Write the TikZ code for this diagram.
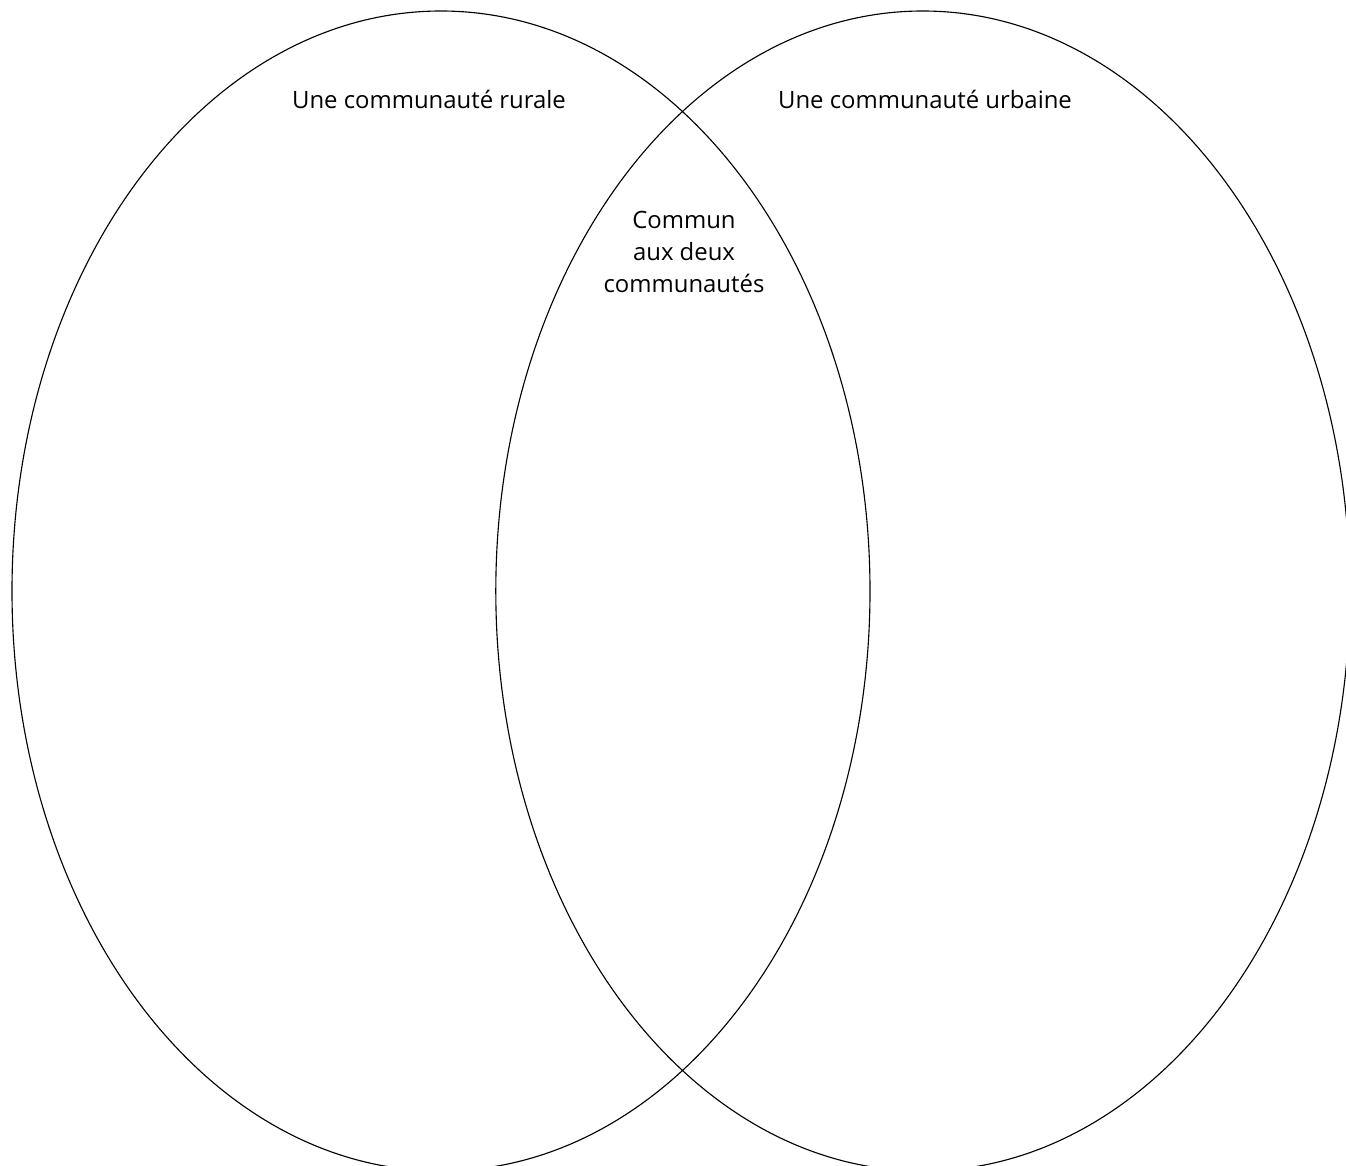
\documentclass[tikz,border=0pt]{standalone}
\usepackage{fontspec}
\setmainfont{Open Sans}
\usetikzlibrary{positioning, shapes.geometric}
\definecolor{venn-border}{HTML}{000000}
\definecolor{label-color}{HTML}{000000}
\tikzset{
  venn-set/.style={
    ellipse, draw=venn-border, line width=0.8pt, inner sep=0pt,
    minimum height=29.0cm
  },
  venn-label/.style={
    text=label-color, align=center, inner sep=0pt,
    font=\fontsize{17}{22.8}\selectfont
  }
}

\begin{document}
\begin{tikzpicture}
  \useasboundingbox (0, 0) rectangle (33.65, -29.15);
  \node[venn-set, minimum width=21.45cm] (rural) at (11.025, -14.775) {};
  \node[venn-set, minimum width=21.35cm] (urban) at (23.07, -14.775)  {};

  \node[venn-label] (rural-title)  at (10.725, -2.475) {Une communauté rurale};
  \node[venn-label] (urban-title)  at (23.125, -2.475) {Une communauté urbaine};
  \node[venn-label] (common-title) at (17.1, -6.3)     {Commun\\aux deux\\communautés};
\end{tikzpicture}
\end{document}
